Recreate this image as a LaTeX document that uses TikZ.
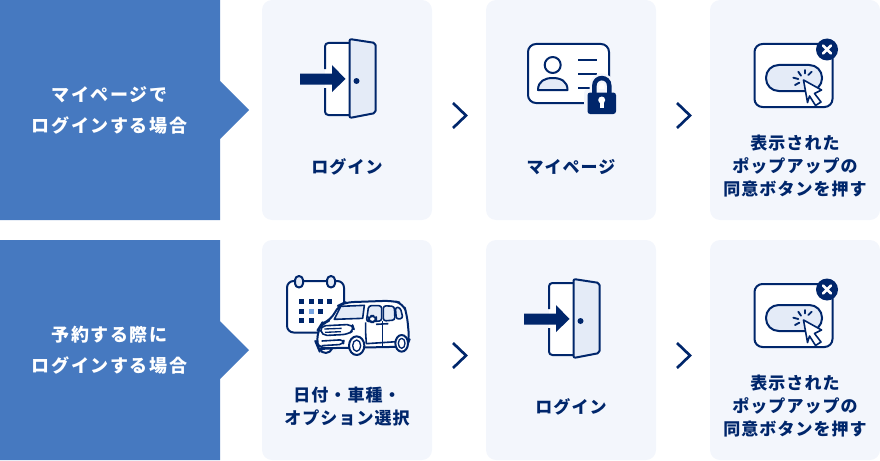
\documentclass[tikz,border=0pt]{standalone}
\usepackage{fontspec}
\newfontfamily\jpfont[LetterSpace=6]{Noto Sans CJK JP}
\newfontfamily\jpwide[LetterSpace=9]{Noto Sans CJK JP}

\definecolor{bandblue}{RGB}{70,121,192}
\definecolor{cardbg}{RGB}{243,246,252}
\definecolor{navy}{RGB}{0,38,107}
\definecolor{palefill}{RGB}{228,235,247}
\definecolor{dotblue}{RGB}{120,165,225}

\tikzset{every picture/.style={line width=0.75pt},
  band/.style={fill=bandblue,draw=none},
  card/.style={fill=cardbg,draw=none,rounded corners=7.5pt,minimum width=127.5pt,minimum height=165pt,inner sep=0pt},
  bandtext/.style={text=white,font=\jpwide\bfseries\fontsize{13.5}{23.25}\selectfont,align=center,inner sep=0pt},
  cardtext/.style={text=navy,font=\jpfont\bfseries\fontsize{12.75}{17.25}\selectfont,align=center,inner sep=0pt},
  icon/.style={draw=navy,line width=1.5pt,line join=round},
  chevron/.style={draw=navy,line width=2pt,line join=miter}
}

\newcommand{\chevronmark}{\draw[chevron] (453,103) -- (466,115.5) -- (453,128);}
\newcommand{\dooricon}{
  \fill[white] (325,43) rectangle (350,115);
  \draw[icon,rounded corners=2.5pt] (325,69) -- (325,43) -- (350,43);
  \draw[icon,rounded corners=2.5pt] (325,88) -- (325,115) -- (350,115);
  \draw[icon,fill=palefill,rounded corners=1.5pt] (349.5,39) -- (375.5,43) -- (375.5,113) -- (349.5,118) -- cycle;
  \fill[navy] (300,73.5) -- (332,73.5) -- (332,65) -- (345.5,79) -- (332,92) -- (332,84.5) -- (300,84.5) -- cycle;
  \fill[navy] (356.5,81) circle (3);
}
\newcommand{\popupicon}{
  \draw[icon,fill=white,rounded corners=6pt] (754.5,44) rectangle (832.5,107);
  \draw[icon,fill=palefill,rounded corners=9.5pt] (766,65) rectangle (822,91);
  \draw[navy,line width=1.4pt,line cap=round] (798.3,71.7) -- (801,75.7) (805,70) -- (805,73.5) (811.7,71.7) -- (808.3,75) (793.3,77.7) -- (798.3,79) (795,85) -- (799.3,82.7);
  \draw[icon,line width=1.2pt,fill=white] (803.5,80) -- (821.5,90) -- (814.5,93.5) -- (821,102) -- (815.5,105.5) -- (809.5,96) -- (807.5,102.5) -- cycle;
  \fill[navy] (827,49.5) circle (11);
  \draw[white,line width=2pt,line cap=round] (823,45.5) -- (831,53.5) (831,45.5) -- (823,53.5);
}

\begin{document}
\begin{tikzpicture}[x=0.75pt,y=0.75pt,yscale=-1,xscale=1]
\useasboundingbox (0,0) rectangle (880,460);

% Bands
\draw[band] (0,0) -- (220,0) -- (220,81) -- (249,110) -- (220,139) -- (220,220) -- (0,220) -- cycle;
\draw[band] (0,240) -- (220,240) -- (220,321) -- (249,350) -- (220,379) -- (220,460) -- (0,460) -- cycle;

% Cards
\node[card] (loginA) at (347,110) {};
\node[card] (mypage) at (571,110) {};
\node[card] (popupA) at (795,110) {};
\node[card] (select) at (347,350) {};
\node[card] (loginB) at (571,350) {};
\node[card] (popupB) at (795,350) {};

% Chevrons
\foreach \shiftx/\shifty in {0/0,224/0,0/240,224/240} {
  \begin{scope}[shift={(\shiftx,\shifty)}] \chevronmark \end{scope}
}

% Door icons
\dooricon
\begin{scope}[shift={(224,240)}] \dooricon \end{scope}

% Popup icons
\popupicon
\begin{scope}[shift={(0,240)}] \popupicon \end{scope}

% ID card with lock
\draw[icon,fill=white,rounded corners=6pt] (528,44) rectangle (609,103);
\draw[icon] (552.7,65) circle (8);
\draw[icon,fill=palefill] (538,90) .. controls (538,81) and (545,78) .. (552.7,78) .. controls (560.5,78) and (567.5,81) .. (567.5,90) -- cycle;
\draw[icon] (578,60) -- (596.5,60) (578,73.5) -- (596.5,73.5) (578,87.5) -- (596.5,87.5);
\fill[cardbg,rounded corners=3pt] (584,89) rectangle (619,117);
\draw[cardbg,line width=7pt] (594.3,95) -- (594.3,86) .. controls (594.3,75.5) and (609.3,75.5) .. (609.3,86) -- (609.3,95);
\draw[navy,line width=3.4pt] (594.3,95) -- (594.3,86) .. controls (594.3,75.5) and (609.3,75.5) .. (609.3,86) -- (609.3,95);
\fill[navy,rounded corners=2pt] (587.5,92.5) rectangle (616,114);
\fill[white] (601.7,100) circle (3.5);
\fill[white] (599.9,100) rectangle (603.5,108);

% Calendar
\draw[icon,fill=white,rounded corners=5pt] (287,281) rectangle (344,332.5);
\draw[icon,fill=palefill,rounded corners=3pt] (295,276) rectangle (303,287.5);
\draw[icon,fill=palefill,rounded corners=3pt] (327,276) rectangle (335,287.5);
\foreach \dotx/\doty in {301.7/301.7,311/301.7,320/301.7,329/301.7,301.7/311,320/311,301.7/320,311/320}
  \fill[navy] (\dotx-2.5,\doty-2.5) rectangle (\dotx+2.5,\doty+2.5);
\fill[dotblue] (308.5,308.5) rectangle (313.5,313.5);

% Car
\begin{scope}[shift={(275,265)},x=0.25pt,y=0.25pt]
\draw[icon,fill=white,rounded corners=6pt] (125,238) -- (130,192) -- (140,176) -- (168,165) -- (190,122) -- (210,112) -- (350,107) -- (385,115) -- (396,150) -- (403,225) -- (395,245) -- (130,250) -- cycle;
\draw[icon,fill=palefill,line width=1.2pt] (178,163) -- (197,124) -- (268,121) -- (263,160) -- cycle;
\draw[icon,fill=palefill,line width=1.2pt,rounded corners=2pt] (274,170) -- (281,122) -- (320,122) -- (320,168) -- cycle;
\draw[icon,fill=palefill,line width=1.2pt,rounded corners=2pt] (325,168) -- (325,122) -- (358,124) -- (360,165) -- cycle;
\draw[icon,fill=palefill,line width=1.2pt,rounded corners=2pt] (364,163) -- (361,126) -- (376,128) -- (384,160) -- cycle;
\draw[icon,fill=white,line width=1.2pt,rounded corners=4pt] (280,152) rectangle (304,172);
\draw[icon,line width=1.2pt,rounded corners=4pt] (135,183) -- (232,178) -- (238,195) -- (218,208) -- (140,212) -- cycle;
\draw[icon,line width=1pt] (148,192) -- (200,190) (150,202) -- (198,200);
\draw[icon,line width=1.2pt,rounded corners=3pt] (140,228) -- (207,224) -- (205,238) -- (140,242);
\draw[icon,line width=1.2pt] (272,172) -- (272,205) -- (274,236) -- (365,230);
\draw[icon,line width=1.2pt] (322,168) -- (322,245);
\draw[icon,line width=1.2pt] (303,178) -- (340,176);
\draw[icon,fill=white] (245,242) ellipse (23 and 28);
\draw[icon,line width=1pt] (245,242) ellipse (12 and 17);
\draw[icon,fill=white] (380,235) ellipse (19 and 25);
\draw[icon,line width=1pt] (380,235) ellipse (10 and 15);
\draw[icon,fill=white] (135,252) .. controls (140,268) and (165,268) .. (172,250) -- cycle;
\end{scope}

% Text Nodes
\node[bandtext] (bandA) at (109.5,110) {マイページで\\ログインする場合};
\node[bandtext] (bandB) at (109.5,350) {予約する際に\\ログインする場合};
\node[cardtext] (textLoginA) at (347,167) {ログイン};
\node[cardtext] (textMypage) at (571,167) {マイページ};
\node[cardtext] (textPopupA) at (795,166.5) {表示された\\ポップアップの\\同意ボタンを押す};
\node[cardtext] (textSelect) at (347,407) {日付・車種・\\オプション選択};
\node[cardtext] (textLoginB) at (571,407) {ログイン};
\node[cardtext] (textPopupB) at (795,406.5) {表示された\\ポップアップの\\同意ボタンを押す};

\end{tikzpicture}
\end{document}
